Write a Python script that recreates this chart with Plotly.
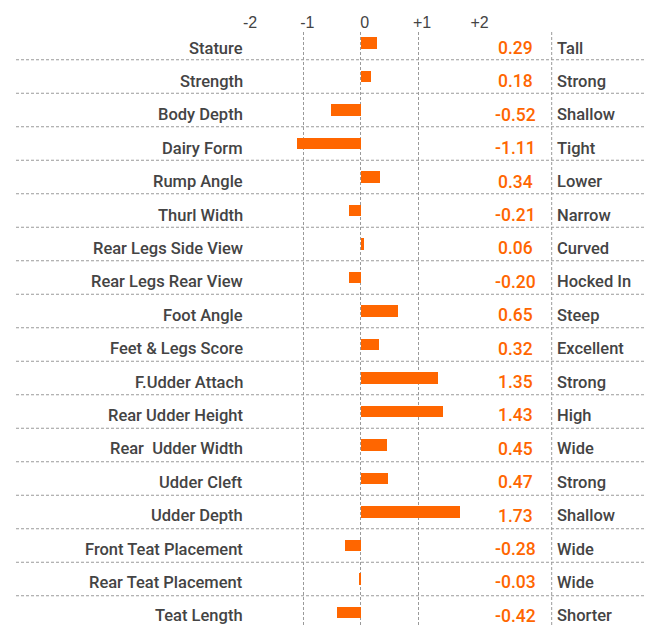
import plotly.graph_objects as go

traits = ["Stature", "Strength", "Body Depth", "Dairy Form", "Rump Angle", "Thurl Width",
          "Rear Legs Side View", "Rear Legs Rear View", "Foot Angle", "Feet & Legs Score",
          "F.Udder Attach", "Rear Udder Height", "Rear  Udder Width", "Udder Cleft",
          "Udder Depth", "Front Teat Placement", "Rear Teat Placement", "Teat Length"]
values = [0.29, 0.18, -0.52, -1.11, 0.34, -0.21, 0.06, -0.20, 0.65, 0.32,
          1.35, 1.43, 0.45, 0.47, 1.73, -0.28, -0.03, -0.42]
descriptors = ["Tall", "Strong", "Shallow", "Tight", "Lower", "Narrow", "Curved", "Hocked In",
               "Steep", "Excellent", "Strong", "High", "Wide", "Strong", "Shallow", "Wide",
               "Wide", "Shorter"]
tick_vals = [-2, -1, 0, 1, 2]
tick_text = ["-2", "-1", "0", "+1", "+2"]

W, H = 645, 625
TOP = 32
ROW = 33.5        # bar row pitch (px)
ROW_T = 33.4      # text row pitch (px)
FIRST = 43
ORANGE = "#ff6600"
DARK = "#444444"
GRID = "#9a9a9a"
COND = "Roboto, Liberation Sans, sans-serif"
FS = 16.5

rows = list(range(len(traits)))
y_top = (TOP - FIRST) / ROW
y_bot = (H - FIRST) / ROW

fig = go.Figure()
fig.add_trace(go.Bar(
    x=values, y=rows, orientation="h", width=0.35,
    marker=dict(color=ORANGE, line=dict(width=0)),
    hoverinfo="skip", showlegend=False,
))

shapes = []
for k in range(len(traits) - 1):
    shapes.append(dict(type="line", xref="paper", yref="y", x0=16 / W, x1=1,
                       y0=k + 0.5, y1=k + 0.5,
                       line=dict(color=GRID, width=1, dash="3px,2px"), layer="below"))
shapes.append(dict(type="line", xref="paper", yref="paper", x0=551.7 / W, x1=551.7 / W,
                   y0=0, y1=1, line=dict(color=GRID, width=1, dash="3px,2px"), layer="below"))

annotations = []
for i, (t, v, d) in enumerate(zip(traits, values, descriptors)):
    ys = -(5 + (ROW_T - ROW) * i)
    common = dict(xref="paper", yref="y", y=i, yshift=ys, yanchor="middle",
                  showarrow=False, borderpad=0)
    annotations.append(dict(text=t, x=243.5 / W, xanchor="right",
                            font=dict(family=COND, size=FS, color=DARK, weight=500), **common))
    annotations.append(dict(text=f"{v:.2f}", x=515.5 / W, xanchor="center",
                            font=dict(family=COND, size=FS + 1, color=ORANGE, weight=500), **common))
    annotations.append(dict(text=d, x=556 / W, xanchor="left",
                            font=dict(family=COND, size=FS, color=DARK, weight=500), **common))

fig.update_layout(
    width=W, height=H,
    margin=dict(l=0, r=0, t=TOP, b=0, autoexpand=False),
    paper_bgcolor="white", plot_bgcolor="white",
    xaxis=dict(domain=[246 / W, 475.5 / W], range=[-2, 2], side="top",
               tickvals=tick_vals, ticktext=tick_text, ticks="",
               ticklabelstandoff=0, ticklabelshift=4, automargin=False,
               tickfont=dict(family="Liberation Sans, Arial, sans-serif", size=16, color=DARK),
               showgrid=True, gridcolor=GRID, gridwidth=1, griddash="3px,2px",
               zeroline=False, showline=False, fixedrange=True),
    yaxis=dict(range=[y_bot, y_top], showgrid=False, zeroline=False, showline=False,
               showticklabels=False, fixedrange=True, automargin=False),
    shapes=shapes, annotations=annotations,
    bargap=0,
)

fig.write_html("out.html", config={"displayModeBar": False},
               post_script="document.body.style.margin='0';document.body.style.overflow='hidden';")
